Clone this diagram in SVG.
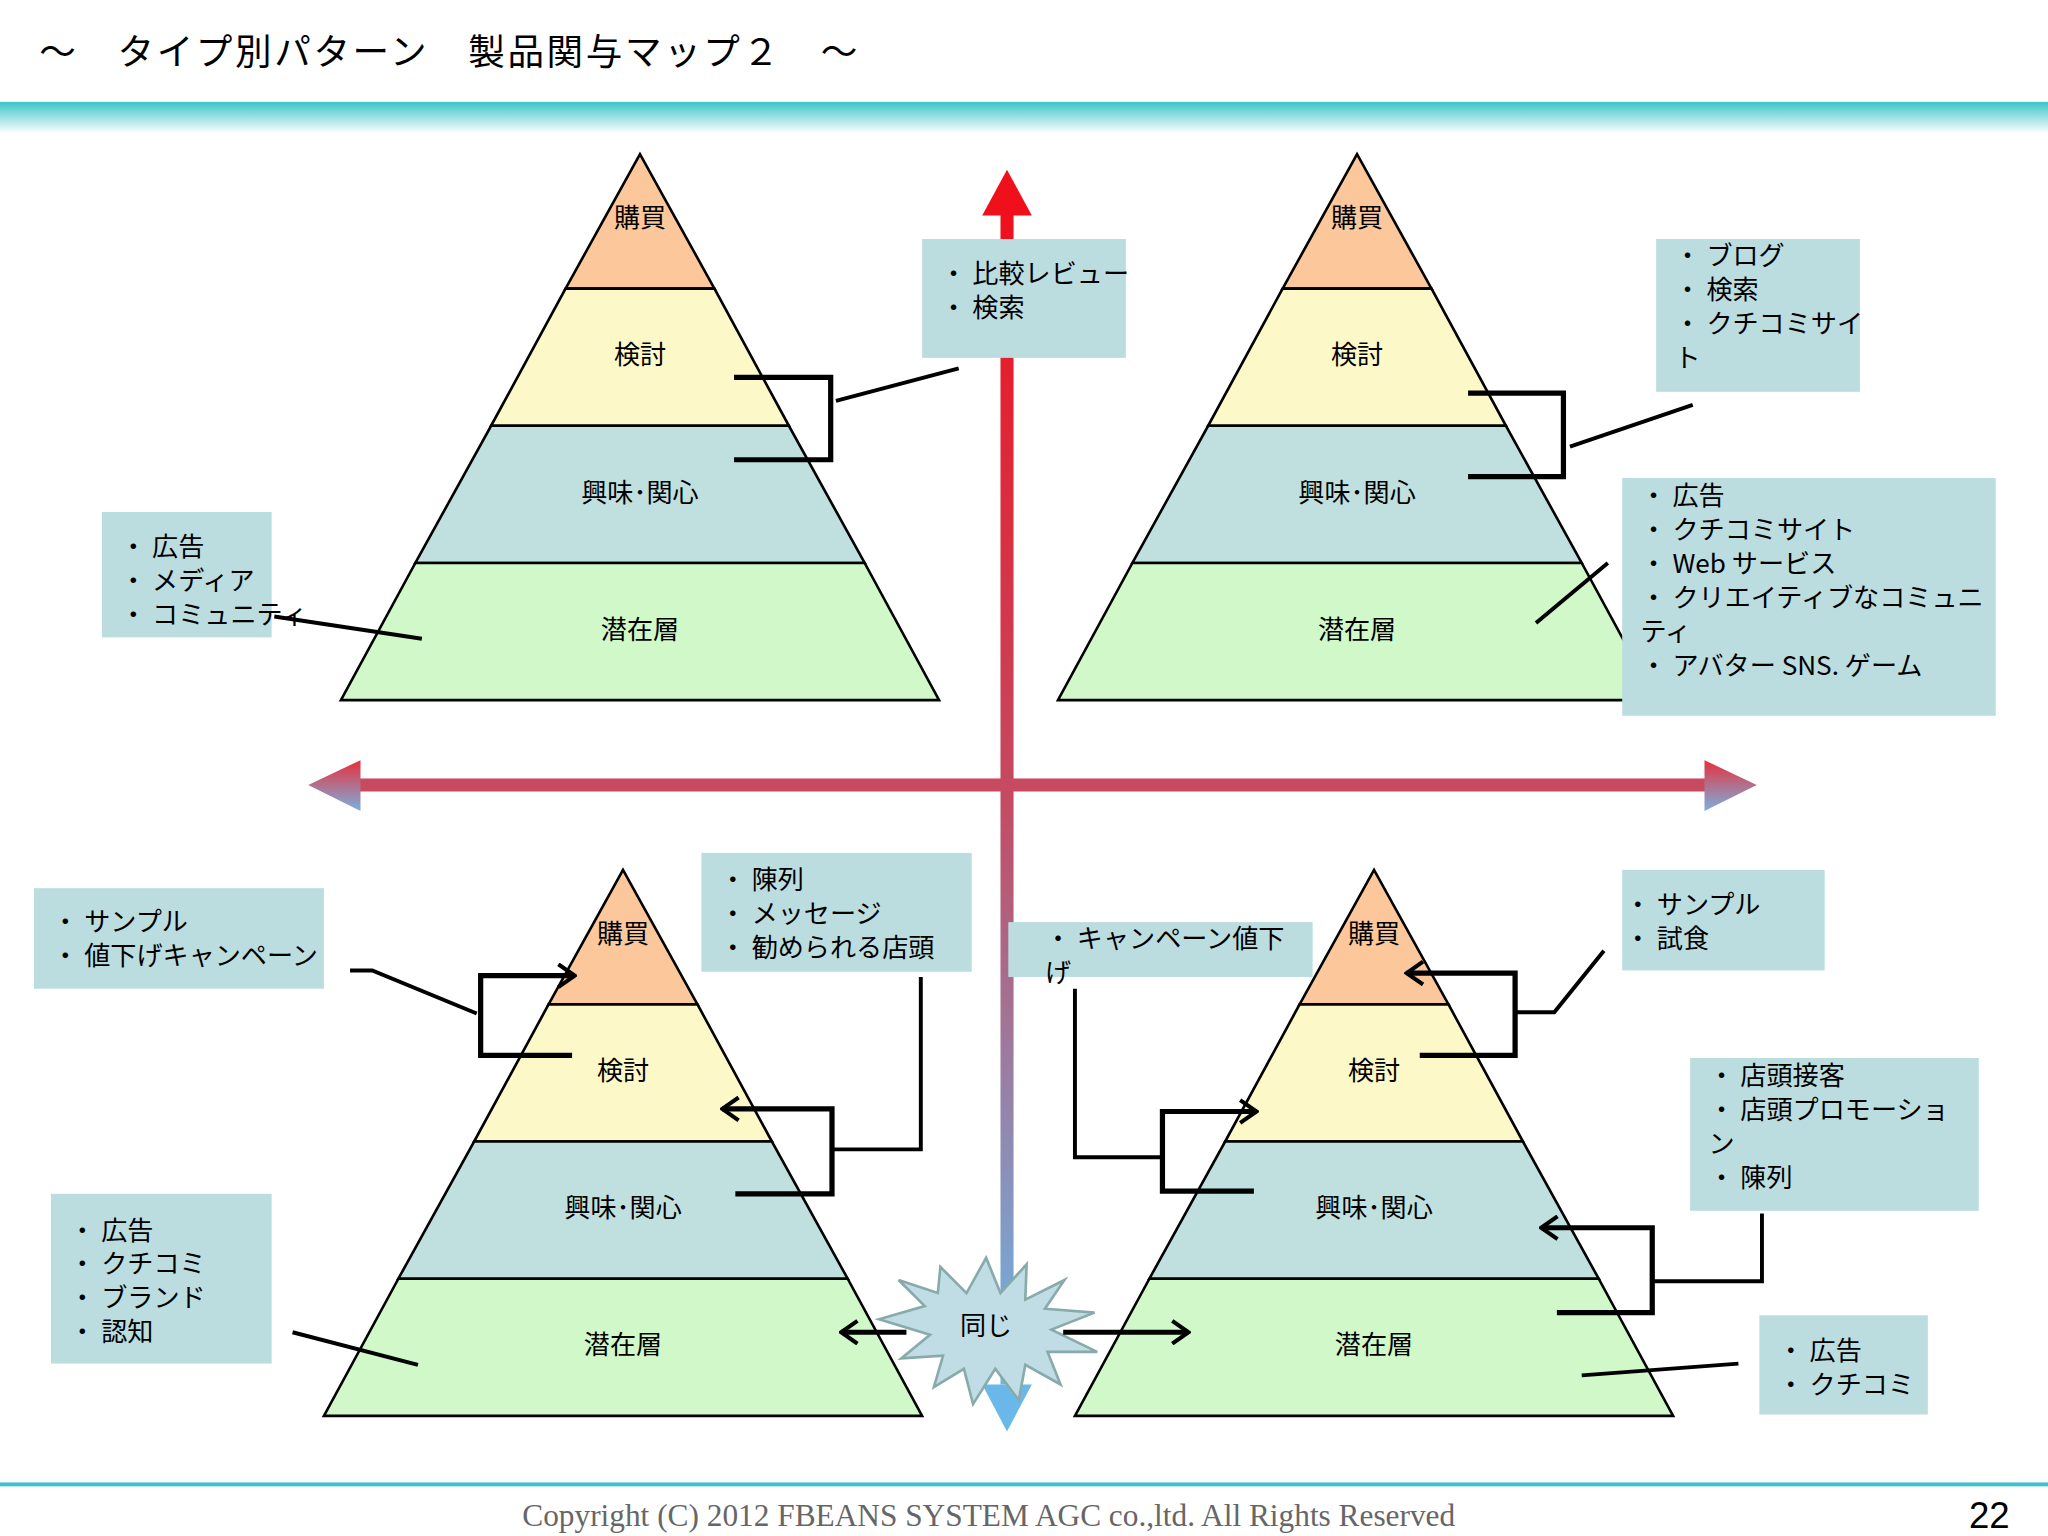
<svg xmlns="http://www.w3.org/2000/svg" width="2048" height="1536" viewBox="0 0 2048 1536">
<defs>
<style>
text{font-family:"Noto Sans CJK JP","Liberation Sans",sans-serif;fill:#000}
.lay{stroke:#000;stroke-width:2}
.lbl{font-size:20px;text-anchor:middle}
.box{fill:#bcdde0}
.bt{font-size:20px}
.cn{fill:none;stroke:#000;stroke-width:4}
.ln{fill:none;stroke:#000;stroke-width:3}
</style>
<linearGradient id="band" x1="0" y1="0" x2="0" y2="1"><stop offset="0" stop-color="#3cc4c8"/><stop offset="1" stop-color="#fff"/></linearGradient>
<linearGradient id="vax" x1="0" y1="0" x2="0" y2="1"><stop offset="0" stop-color="#f0101c"/><stop offset="0.5" stop-color="#c44a62"/><stop offset="1" stop-color="#6ab8ea"/></linearGradient>
<linearGradient id="hax" x1="0" y1="0" x2="0" y2="1"><stop offset="0" stop-color="#e8303a"/><stop offset="1" stop-color="#7ab0e0"/></linearGradient>
<marker id="ch" viewBox="0 0 12 16" refX="11" refY="8" markerWidth="4" markerHeight="5" orient="auto" markerUnits="strokeWidth"><polyline points="1,1 11,8 1,15" fill="none" stroke="#000" stroke-width="2.5"/></marker>
</defs>
<rect width="2048" height="1536" fill="#fff"/>
<g transform="scale(1.30612)">
<g id="header">
<text x="30" y="50" font-size="28" letter-spacing="2">～　タイプ別パターン　製品関与マップ２　～</text>
<rect x="0" y="78" width="1568" height="24" fill="url(#band)"/>
</g>
<g id="axes">
<rect x="766" y="160" width="10" height="900" fill="url(#vax)"/>
<polygon points="771,130 752,165 790,165" fill="#f0101c"/>
<polygon points="771,1096 752,1060 790,1060" fill="#6ab8ea"/>
<rect x="270" y="596" width="1040" height="10" fill="#c84a60"/>
<polygon points="236,601 276,582 276,621" fill="url(#hax)"/>
<polygon points="1345,601 1305,582 1305,621" fill="url(#hax)"/>
</g>
<g id="pyr-tl">
<polygon class="lay" points="490,118 433,221 547,221" fill="#fcc89b"/>
<polygon class="lay" points="433,221 547,221 604,326 376,326" fill="#fdf8c8"/>
<polygon class="lay" points="376,326 604,326 662,431 318,431" fill="#c0e0e0"/>
<polygon class="lay" points="318,431 662,431 719,536 261,536" fill="#d0f8c8"/>
<text class="lbl" x="490" y="174">購買</text><text class="lbl" x="490" y="279">検討</text><text class="lbl" x="490" y="384">興味･関心</text><text class="lbl" x="490" y="489">潜在層</text>
</g>
<g id="pyr-tr">
<polygon class="lay" points="1039,118 982,221 1096,221" fill="#fcc89b"/>
<polygon class="lay" points="982,221 1096,221 1153,326 925,326" fill="#fdf8c8"/>
<polygon class="lay" points="925,326 1153,326 1211,431 867,431" fill="#c0e0e0"/>
<polygon class="lay" points="867,431 1211,431 1268,536 810,536" fill="#d0f8c8"/>
<text class="lbl" x="1039" y="174">購買</text><text class="lbl" x="1039" y="279">検討</text><text class="lbl" x="1039" y="384">興味･関心</text><text class="lbl" x="1039" y="489">潜在層</text>
</g>
<g id="pyr-bl">
<polygon class="lay" points="477,666 420,769 534,769" fill="#fcc89b"/>
<polygon class="lay" points="420,769 534,769 591,874 363,874" fill="#fdf8c8"/>
<polygon class="lay" points="363,874 591,874 649,979 305,979" fill="#c0e0e0"/>
<polygon class="lay" points="305,979 649,979 706,1084 248,1084" fill="#d0f8c8"/>
<text class="lbl" x="477" y="722">購買</text><text class="lbl" x="477" y="827">検討</text><text class="lbl" x="477" y="932">興味･関心</text><text class="lbl" x="477" y="1037">潜在層</text>
</g>
<g id="pyr-br">
<polygon class="lay" points="1052,666 995,769 1109,769" fill="#fcc89b"/>
<polygon class="lay" points="995,769 1109,769 1166,874 938,874" fill="#fdf8c8"/>
<polygon class="lay" points="938,874 1166,874 1224,979 880,979" fill="#c0e0e0"/>
<polygon class="lay" points="880,979 1224,979 1281,1084 823,1084" fill="#d0f8c8"/>
<text class="lbl" x="1052" y="722">購買</text><text class="lbl" x="1052" y="827">検討</text><text class="lbl" x="1052" y="932">興味･関心</text><text class="lbl" x="1052" y="1037">潜在層</text>
</g>
<g id="box1"><rect class="box" x="706" y="183" width="156" height="91"/><text class="bt" x="720" y="217">・ 比較レビュー</text><text class="bt" x="720" y="243">・ 検索</text></g>
<g id="box2"><rect class="box" x="78" y="392" width="130" height="96"/><text class="bt" x="92" y="426">・ 広告</text><text class="bt" x="92" y="452">・ メディア</text><text class="bt" x="92" y="478">・ コミュニティ</text></g>
<g id="box3"><rect class="box" x="1268" y="183" width="156" height="117"/><text class="bt" x="1282" y="203">・ ブログ</text><text class="bt" x="1282" y="229">・ 検索</text><text class="bt" x="1282" y="255">・ クチコミサイ</text><text class="bt" x="1282" y="281">ト</text></g>
<g id="box4"><rect class="box" x="1242" y="366" width="286" height="182"/><text class="bt" x="1256" y="387">・ 広告</text><text class="bt" x="1256" y="413">・ クチコミサイト</text><text class="bt" x="1256" y="439">・ Web サービス</text><text class="bt" x="1256" y="465">・ クリエイティブなコミュニ</text><text class="bt" x="1256" y="491">ティ</text><text class="bt" x="1256" y="517">・ アバター SNS. ゲーム</text></g>
<g id="box5"><rect class="box" x="26" y="680" width="222" height="77"/><text class="bt" x="40" y="713">・ サンプル</text><text class="bt" x="40" y="739">・ 値下げキャンペーン</text></g>
<g id="box6"><rect class="box" x="537" y="653" width="207" height="91"/><text class="bt" x="551" y="681">・ 陳列</text><text class="bt" x="551" y="707">・ メッセージ</text><text class="bt" x="551" y="733">・ 勧められる店頭</text></g>
<g id="box7"><rect class="box" x="772" y="706" width="233" height="42"/><text class="bt" x="800" y="726">・ キャンペーン値下</text><text class="bt" x="800" y="752">げ</text></g>
<g id="box8"><rect class="box" x="1242" y="666" width="155" height="77"/><text class="bt" x="1244" y="700">・ サンプル</text><text class="bt" x="1244" y="726">・ 試食</text></g>
<g id="box9"><rect class="box" x="1294" y="810" width="221" height="117"/><text class="bt" x="1308" y="831">・ 店頭接客</text><text class="bt" x="1308" y="857">・ 店頭プロモーショ</text><text class="bt" x="1308" y="883">ン</text><text class="bt" x="1308" y="909">・ 陳列</text></g>
<g id="box10"><rect class="box" x="39" y="914" width="169" height="130"/><text class="bt" x="53" y="949">・ 広告</text><text class="bt" x="53" y="975">・ クチコミ</text><text class="bt" x="53" y="1001">・ ブランド</text><text class="bt" x="53" y="1027">・ 認知</text></g>
<g id="box11"><rect class="box" x="1347" y="1007" width="129" height="76"/><text class="bt" x="1361" y="1041">・ 広告</text><text class="bt" x="1361" y="1067">・ クチコミ</text></g>
<g id="burst">
<polygon points="755,963 766,990 786,968 785,995 815,980 800,1002 838,1005 805,1018 840,1035 802,1035 812,1060 785,1045 780,1072 762,1048 745,1075 738,1048 715,1062 722,1038 690,1040 712,1022 673,1010 708,1000 688,980 718,990 720,970 740,990" fill="#c0dce4" stroke="#8aa" stroke-width="2"/>
<text class="lbl" x="755" y="1022">同じ</text>
</g>
<g id="connectors">
<path class="cn" d="M562,289 H636 V352 H562"/><path class="ln" d="M640,307 L734,282"/><path class="ln" d="M210,472 L323,489"/>
<path class="cn" d="M1124,301 H1197 V365 H1124"/><path class="ln" d="M1202,342 L1296,310"/><path class="ln" d="M1176,477 L1231,431"/>
<path class="ln" d="M268,743 H285 L365,776"/><path class="cn" d="M438,808 H368 V747 H440" marker-end="url(#ch)"/>
<path class="ln" d="M705,748 V880 H638"/><path class="cn" d="M563,914 H637 V849 H553" marker-end="url(#ch)"/>
<path class="ln" d="M224,1020 L320,1045"/>
<path class="ln" d="M1228,728 L1190,775 H1160"/><path class="cn" d="M1087,808 H1160 V745 H1077" marker-end="url(#ch)"/>
<path class="ln" d="M823,757 V886 H890"/><path class="cn" d="M960,912 H890 V851 H962" marker-end="url(#ch)"/>
<path class="ln" d="M1349,929 V981 H1265"/><path class="cn" d="M1192,1005 H1265 V940 H1180" marker-end="url(#ch)"/>
<path class="ln" d="M1211,1053 L1331,1044"/>
<path class="cn" d="M694,1020 H644" marker-end="url(#ch)"/><path class="cn" d="M814,1020 H910" marker-end="url(#ch)"/>
</g>
<g id="footer">
<rect x="0" y="1135" width="1568" height="3" fill="#3cc4c8"/>
<text x="757" y="1168" font-size="24" text-anchor="middle" style="font-family:'Liberation Serif',serif;fill:#666">Copyright (C) 2012 FBEANS SYSTEM AGC co.,ltd. All Rights Reserved</text>
<text x="1523" y="1170" font-size="28" text-anchor="middle" style="font-family:'Liberation Sans',sans-serif">22</text>
</g>
</g>
</svg>
